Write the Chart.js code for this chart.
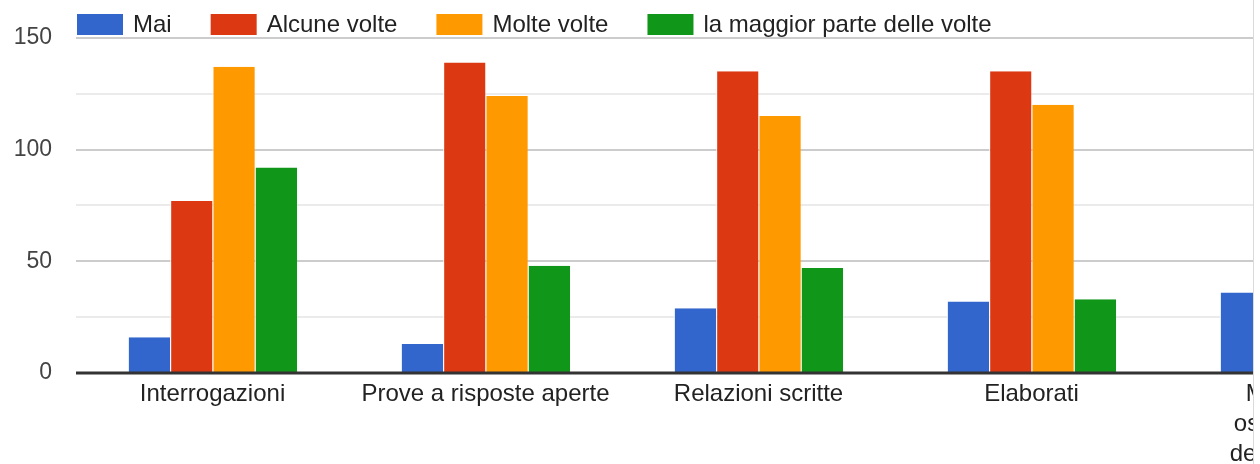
<!DOCTYPE html>
<html>
<head>
<meta charset="utf-8">
<script src="https://cdn.jsdelivr.net/npm/chart.js@4/dist/chart.umd.min.js"></script>
<style>
  body { margin: 0; background: #fff; }
  #wrap { width: 1253px; height: 464px; overflow: hidden; border-right: 1px solid #dadada; }
  #chart { display: block; }
</style>
</head>
<body>
<div id="wrap"><canvas id="chart" width="1460" height="464"></canvas></div>
<script>
var categories = ['Interrogazioni', 'Prove a risposte aperte', 'Relazioni scritte', 'Elaborati', ['Momenti di', 'osservazione', 'dello studente']];
var seriesNames = ['Mai', 'Alcune volte', 'Molte volte', 'la maggior parte delle volte'];
var mai = [16, 13, 29, 32, 36];
var alcuneVolte = [77, 139, 135, 135, null];
var molteVolte = [137, 124, 115, 120, null];
var maggiorParte = [92, 48, 47, 33, null];
var yTicks = [0, 50, 100, 150];

var colors = ['#3366cc', '#dc3912', '#ff9900', '#109618'];
var FONT = "'Liberation Sans', Arial, sans-serif";

function makeSet(i, values) {
  return {
    label: seriesNames[i],
    data: values,
    backgroundColor: colors[i],
    borderColor: '#ffffff',
    borderWidth: { left: 1, right: 0, top: 0, bottom: 0 },
    borderSkipped: false,
    categoryPercentage: 0.62,
    barPercentage: 1
  };
}

// legend drawn above the plot, lined up with the left edge of the grid
var topLegend = {
  id: 'topLegend',
  afterDraw: function (chart) {
    var ctx = chart.ctx;
    var x = chart.chartArea.left + 1;
    ctx.save();
    ctx.font = '24px ' + FONT;
    ctx.textBaseline = 'middle';
    ctx.fillStyle = '#222';
    chart.data.datasets.forEach(function (ds) {
      ctx.fillStyle = ds.backgroundColor;
      ctx.fillRect(x, 14, 46, 21);
      x += 46 + 10;
      ctx.fillStyle = '#222';
      ctx.fillText(ds.label, x, 25);
      x += ctx.measureText(ds.label).width + 39;
    });
    ctx.restore();
  }
};

// dark baseline at zero, on top of the bars
var zeroLine = {
  id: 'zeroLine',
  afterDatasetsDraw: function (chart) {
    var ctx = chart.ctx;
    var y = chart.scales.y.getPixelForValue(0);
    ctx.save();
    ctx.strokeStyle = '#333';
    ctx.lineWidth = 3;
    ctx.beginPath();
    ctx.moveTo(chart.chartArea.left, y);
    ctx.lineTo(chart.chartArea.right, y);
    ctx.stroke();
    ctx.restore();
  }
};

var ctx = document.getElementById('chart').getContext('2d');
var chart = new Chart(ctx, {
  type: 'bar',
  data: {
    labels: categories,
    datasets: [
      makeSet(0, mai),
      makeSet(1, alcuneVolte),
      makeSet(2, molteVolte),
      makeSet(3, maggiorParte)
    ]
  },
  options: {
    responsive: false,
    animation: false,
    layout: { padding: { top: 35, right: 19, bottom: 0, left: 0 } },
    plugins: {
      legend: { display: false },
      tooltip: { enabled: false }
    },
    scales: {
      x: {
        grid: { display: false, drawTicks: false },
        border: { display: false },
        ticks: {
          color: '#222',
          padding: 6,
          maxRotation: 0,
          autoSkip: false,
          font: { family: FONT, size: 24, lineHeight: 1.25 }
        },
        afterFit: function (s) { s.height = 91; }
      },
      y: {
        min: 0,
        max: 150,
        border: { display: false },
        grid: {
          drawTicks: false,
          lineWidth: 2,
          color: function (c) {
            var v = c.tick.value;
            if (v === 0) return 'rgba(0,0,0,0)';
            return yTicks.indexOf(v) >= 0 ? '#cccccc' : '#ebebeb';
          }
        },
        ticks: {
          stepSize: 25,
          color: '#444',
          padding: 24,
          font: { family: FONT, size: 23 },
          callback: function (v) { return yTicks.indexOf(v) >= 0 ? v : ''; }
        },
        afterFit: function (s) { s.width = 76; }
      }
    }
  },
  plugins: [topLegend, zeroLine]
});
</script>
</body>
</html>
